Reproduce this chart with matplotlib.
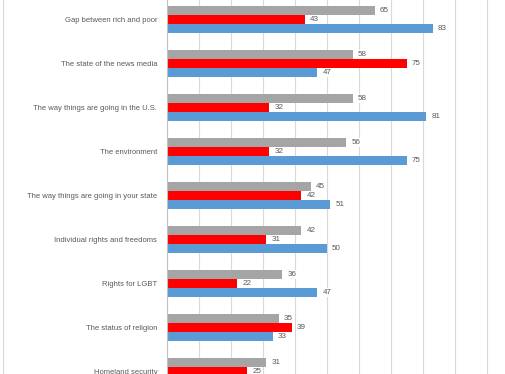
import numpy as np
import matplotlib.pyplot as plt
from matplotlib.lines import Line2D

categories = ["Gap between rich and poor", "The state of the news media",
              "The way things are going in the U.S.", "The environment",
              "The way things are going in your state", "Individual rights and freedoms",
              "Rights for LGBT", "The status of religion", "Homeland security"]
gray_vals = [65, 58, 58, 56, 45, 42, 36, 35, 31]
red_vals = [43, 75, 32, 32, 42, 31, 22, 39, 25]
blue_vals = [83, 47, 81, 75, 51, 50, 47, 33, np.nan]  # last one is cut off in the picture

colors = ["#A5A5A5", "#FF0000", "#5B9BD5"]
txt = "#595959"

W, H = 505, 374
fig = plt.figure(figsize=(W / 100, H / 100), dpi=100)
# axes: left edge at 167px, 10 units = 32px, one group = 44px
ax = fig.add_axes([167 / W, 0, 352 / W, 1])
ax.set_xlim(0, 110)
ax.set_ylim((H - 19.5) / 44, -19.5 / 44)

y = np.arange(len(categories))
h = 9 / 44
for vals, off, c in zip([gray_vals, red_vals, blue_vals], [-h, 0, h], colors):
    ax.barh(y + off, vals, height=h, color=c, zorder=2)
    for yi, v in zip(y, vals):
        if np.isnan(v):
            continue
        ax.text(v + 1.6, yi + off, "%d" % v, va="center", ha="left", fontsize=5.8,
                color=txt, family="Liberation Sans", zorder=3,
                bbox=dict(facecolor="white", edgecolor="none", pad=0.6))

ax.set_xticks(np.arange(0, 111, 10))
ax.grid(axis="x", color="#D9D9D9", lw=0.8, zorder=0)
ax.tick_params(length=0, labelbottom=False)
ax.set_yticks(y)
ax.set_yticklabels(categories, fontsize=5.5, color=txt, family="Liberation Sans")
ax.tick_params(axis="y", pad=7)
for s in ["top", "right", "bottom"]:
    ax.spines[s].set_visible(False)
ax.spines["left"].set_color("#BFBFBF")
ax.spines["left"].set_linewidth(0.8)

fig.add_artist(Line2D([3 / W, 3 / W], [0, 1], color="#D9D9D9", lw=0.8))

fig.savefig("out.png", dpi=100)
